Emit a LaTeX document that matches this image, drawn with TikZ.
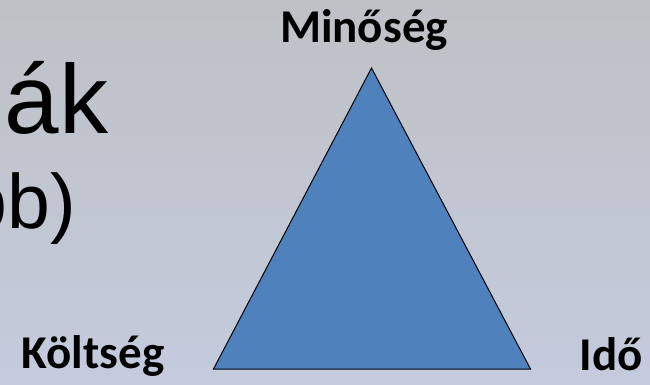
\documentclass[tikz,border=0pt]{standalone}
\usepackage{fontspec}
\usepackage{tikz}
\usetikzlibrary{positioning}
\newfontfamily\labelfont{Carlito}
\newfontfamily\slidefont{Liberation Sans}
\definecolor{bgtop}{RGB}{191,193,197}
\definecolor{bgbottom}{RGB}{195,203,221}
\definecolor{triblue}{RGB}{79,129,189}
\tikzset{
  corner-label/.style={anchor=base, inner sep=0pt,
    font=\labelfont\bfseries\fontsize{47}{56}\selectfont},
  slide-text/.style={anchor=base west, inner sep=0pt, text=black}
}

\begin{document}
\begin{tikzpicture}[x=1pt, y=1pt]
  \useasboundingbox (0,0) rectangle (650,384);
  \clip (0,0) rectangle (650,384);
  \shade[top color=bgtop, bottom color=bgbottom] (0,0) rectangle (650,384);

  % clipped slide title behind the diagram
  \node[slide-text, font=\slidefont\fontsize{98}{110}\selectfont] (title) at (4.4,251) {ák};
  \node[slide-text, font=\slidefont\fontsize{77}{90}\selectfont] (sub) at (-35.8,156) {bb)};

  % triangle corners
  \coordinate (apex) at (371.5,316);
  \coordinate (cost) at (213.5,15);
  \coordinate (time) at (530.5,15);
  \draw[fill=triblue, draw=black, line width=1pt, line join=miter] (apex) -- (cost) -- (time) -- cycle;

  % corner labels
  \node[corner-label] (quality) at (364,342) {Minőség};
  \node[corner-label] (costlbl) at (93,16) {Költség};
  \node[corner-label] (timelbl) at (611.5,14) {Idő};
\end{tikzpicture}
\end{document}
